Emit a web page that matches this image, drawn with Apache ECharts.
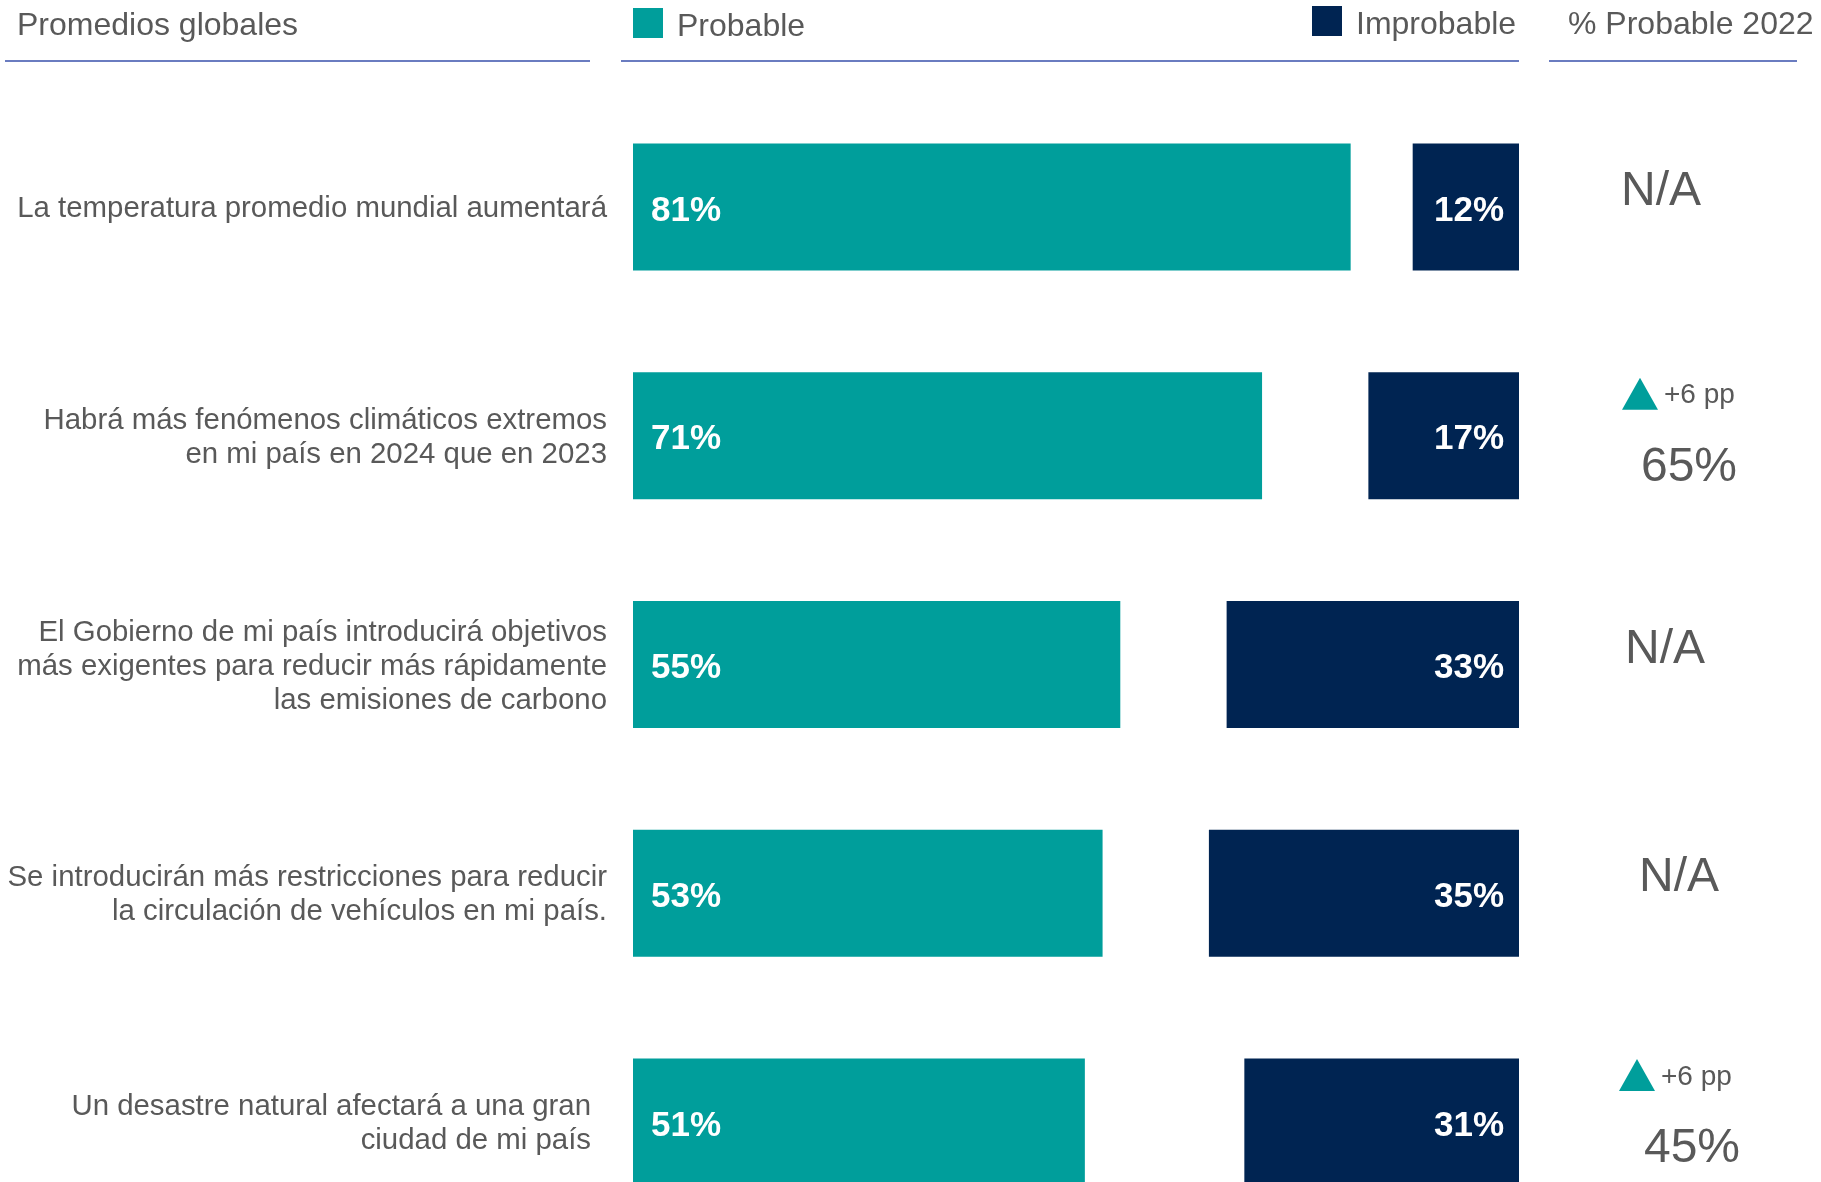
<!DOCTYPE html>
<html>
<head>
<meta charset="utf-8">
<script src="https://cdn.jsdelivr.net/npm/echarts@6/dist/echarts.min.js"></script>
<style>
html,body{margin:0;padding:0;background:#fff;}
#c{width:1821px;height:1182px;}
</style>
</head>
<body>
<div id="c"></div>
<script>
// ---- data ----
var categories = [
  'La temperatura promedio mundial aumentará',
  'Habrá más fenómenos climáticos extremos\nen mi país en 2024 que en 2023',
  'El Gobierno de mi país introducirá objetivos\nmás exigentes para reducir más rápidamente\nlas emisiones de carbono',
  'Se introducirán más restricciones para reducir\nla circulación de vehículos en mi país.',
  'Un desastre natural afectará a una gran\nciudad de mi país'
];
var probable = [81, 71, 55, 53, 51];
var improbable = [12, 17, 33, 35, 31];
var probable2022 = [null, 65, null, null, 45];
var change2022 = [null, 6, null, null, 6];
var headerTitles = ['Promedios globales', 'Probable', 'Improbable', '% Probable 2022'];
var naText = 'N/A';

// ---- styles ----
var TEAL = '#009E9B';
var NAVY = '#002452';
var GRAY = '#595959';
var LINE = '#6A7CC0';
var FONT = 'Liberation Sans, Arial, sans-serif';

var chart = echarts.init(document.getElementById('c'), null, {renderer: 'canvas'});

function legendText() {
  return {
    color: GRAY, fontSize: 32, fontFamily: FONT,
    rich: {t: {color: GRAY, fontSize: 32, fontFamily: FONT, padding: [8, 0, 0, 9]}}
  };
}

var option = {
  animation: false,
  backgroundColor: '#fff',
  textStyle: {fontFamily: FONT},
  grid: {left: 633, top: 207, width: 886, height: 915, containLabel: false},
  xAxis: {type: 'value', min: 0, max: 100, show: false},
  yAxis: {
    type: 'category', data: categories, inverse: true, boundaryGap: false,
    axisLine: {show: false}, axisTick: {show: false}, splitLine: {show: false},
    axisLabel: {
      color: GRAY, fontSize: 29.4, lineHeight: 34, margin: 26, fontFamily: FONT, align: 'right',
      padding: [4, 0, 0, 0],
      formatter: function (v, i) { return i === 4 ? '{p|' + v + '}' : v; },
      rich: {p: {color: GRAY, fontSize: 29.4, lineHeight: 34, fontFamily: FONT, padding: [0, 16, 0, 0]}}
    }
  },
  legend: [
    {data: [{name: headerTitles[1]}], left: 633, top: 8, padding: 0, icon: 'rect', itemWidth: 30, itemHeight: 30,
     selectedMode: false, formatter: '{t|{name}}', textStyle: legendText()},
    {data: [{name: headerTitles[2]}], left: 1312, top: 6, padding: 0, icon: 'rect', itemWidth: 30, itemHeight: 30,
     selectedMode: false, formatter: '{t|{name}}', textStyle: legendText()}
  ],
  series: [
    {
      name: headerTitles[1], type: 'bar', stack: 'p', data: probable, barWidth: 127, barGap: '-100%', clip: false,
      itemStyle: {color: TEAL},
      label: {show: true, position: 'insideLeft', distance: 18, color: '#fff', fontWeight: 'bold',
              fontSize: 35, fontFamily: FONT, formatter: '{c}%', offset: [0, 4]}
    },
    {
      name: 'base', type: 'bar', stack: 'i', barWidth: 127, barGap: '-100%', silent: true, clip: false,
      data: improbable.map(function (v) { return 100 - v; }),
      itemStyle: {color: 'rgba(0,0,0,0)'}, label: {show: false}
    },
    {
      name: headerTitles[2], type: 'bar', stack: 'i', data: improbable, barWidth: 127, barGap: '-100%', clip: false,
      itemStyle: {color: NAVY},
      label: {show: true, position: 'insideRight', distance: 15, color: '#fff', fontWeight: 'bold',
              fontSize: 35, fontFamily: FONT, formatter: '{c}%', offset: [0, 4]}
    }
  ]
};
chart.setOption(option);

// ---- header & right column annotations (layout offsets) ----
var naDx = [-4, 0, 0, 14, 0];
var blockDx = [0, 0, 0, 0, -3];
var blockDy = [0, 0, 0, 0, -5];
var g = [];
g.push({type: 'text', x: 17, y: 26, style: {text: headerTitles[0], fill: GRAY, font: '32px ' + FONT, textVerticalAlign: 'middle'}});
g.push({type: 'text', x: 1568, y: 25, style: {text: headerTitles[3], fill: GRAY, font: '32px ' + FONT, textVerticalAlign: 'middle'}});
g.push({type: 'rect', shape: {x: 5, y: 60, width: 585, height: 2}, style: {fill: LINE}});
g.push({type: 'rect', shape: {x: 621, y: 60, width: 898, height: 2}, style: {fill: LINE}});
g.push({type: 'rect', shape: {x: 1549, y: 60, width: 248, height: 2}, style: {fill: LINE}});

var colX = 1665;
for (var i = 0; i < categories.length; i++) {
  var cy = chart.convertToPixel({yAxisIndex: 0}, i);
  if (probable2022[i] == null) {
    g.push({type: 'text', x: colX + naDx[i], y: cy - 15,
      style: {text: naText, fill: GRAY, font: '48px ' + FONT, textAlign: 'center', textVerticalAlign: 'middle'}});
  } else {
    var bx = colX + blockDx[i], by = cy + blockDy[i];
    g.push({type: 'polygon', shape: {points: [[bx - 43, by - 26], [bx - 25, by - 58], [bx - 7, by - 26]]},
      style: {fill: TEAL}});
    g.push({type: 'text', x: bx - 1, y: by - 40,
      style: {text: '+' + change2022[i] + ' pp', fill: GRAY, font: '28px ' + FONT, textVerticalAlign: 'middle'}});
    g.push({type: 'text', x: bx + 24 + (i === 4 ? 6 : 0), y: by + 32,
      style: {text: probable2022[i] + '%', fill: GRAY, font: '48px ' + FONT, textAlign: 'center', textVerticalAlign: 'middle'}});
  }
}
chart.setOption({graphic: g});
</script>
</body>
</html>
